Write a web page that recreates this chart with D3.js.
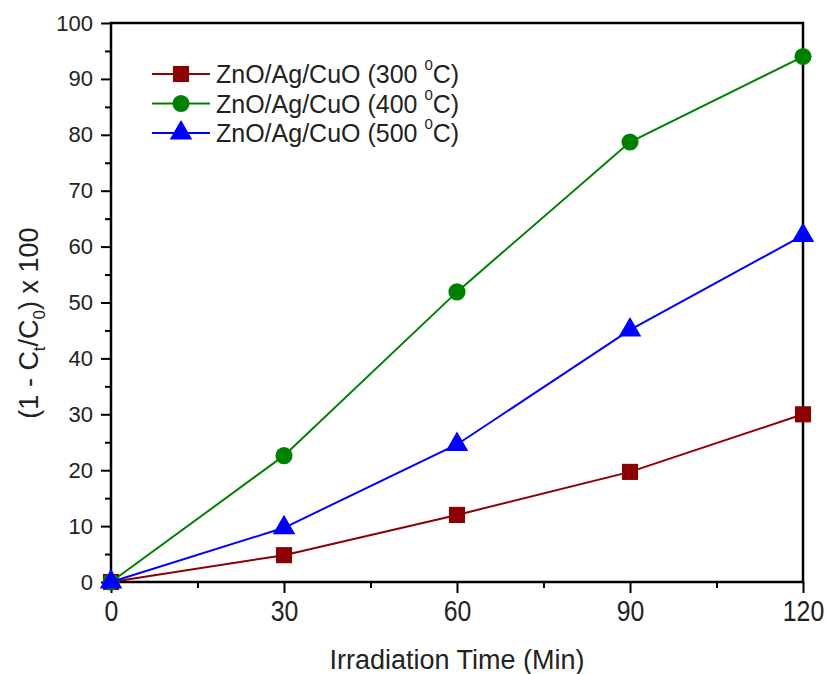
<!DOCTYPE html>
<html>
<head>
<meta charset="utf-8">
<script src="https://cdn.jsdelivr.net/npm/d3@7"></script>
<style>
  body { margin: 0; background: white; }
  text { font-family: "Liberation Sans", Arial, sans-serif; }
</style>
</head>
<body>
<script>
const times = [0, 30, 60, 90, 120];
const s300 = [0, 4.8, 12.0, 19.7, 30.0];
const s400 = [0, 22.6, 51.9, 78.7, 94.0];
const s500 = [0, 9.7, 24.6, 45.1, 62.0];
const seriesNames = ["ZnO/Ag/CuO (300 ", "ZnO/Ag/CuO (400 ", "ZnO/Ag/CuO (500 "];
const xTicks = [0, 30, 60, 90, 120];
const yTicks = [0, 10, 20, 30, 40, 50, 60, 70, 80, 90, 100];

const width = 827, height = 674;
const margin = { top: 23, right: 24, bottom: 92, left: 111 };

const series = [
  { name: seriesNames[0], values: s300, color: "#8b0000", symbol: d3.symbolSquare, size: 260 },
  { name: seriesNames[1], values: s400, color: "#008000", symbol: d3.symbolCircle, size: 230 },
  { name: seriesNames[2], values: s500, color: "#0000ff", symbol: d3.symbolTriangle, size: 220 }
];

const x = d3.scaleLinear([0, 120], [margin.left, width - margin.right]);
const y = d3.scaleLinear([0, 100], [height - margin.bottom, margin.top]);

const svg = d3.select("body").append("svg")
  .attr("width", width)
  .attr("height", height);

// minor ticks
svg.append("g")
  .attr("transform", `translate(0,${y(0)})`)
  .call(d3.axisBottom(x).tickValues(d3.range(15, 120, 30)).tickSize(6).tickFormat(""))
  .call(g => g.select(".domain").remove())
  .selectAll("line").attr("stroke-width", 2);
svg.append("g")
  .attr("transform", `translate(${x(0)},0)`)
  .call(d3.axisLeft(y).tickValues(d3.range(5, 100, 10)).tickSize(6).tickFormat(""))
  .call(g => g.select(".domain").remove())
  .selectAll("line").attr("stroke-width", 2);

// major ticks
const xAxis = svg.append("g")
  .attr("transform", `translate(0,${y(0)})`)
  .call(d3.axisBottom(x).tickValues(xTicks).tickSize(11).tickPadding(6));
xAxis.select(".domain").remove();
xAxis.selectAll("line").attr("stroke-width", 2);
xAxis.selectAll(".tick text")
  .attr("font-size", 27).attr("fill", "#222")
  .attr("transform", "scale(0.92,1.08)");

const yAxis = svg.append("g")
  .attr("transform", `translate(${x(0)},0)`)
  .call(d3.axisLeft(y).tickValues(yTicks).tickSize(10).tickPadding(8));
yAxis.select(".domain").remove();
yAxis.selectAll("line").attr("stroke-width", 2);
yAxis.selectAll("text").attr("font-size", 22).attr("fill", "#222");

// frame
svg.append("rect")
  .attr("x", x(0)).attr("y", y(100))
  .attr("width", x(120) - x(0)).attr("height", y(0) - y(100))
  .attr("fill", "none").attr("stroke", "#000").attr("stroke-width", 2.5);

// lines + markers
const line = d3.line().x((d, i) => x(times[i])).y(d => y(d));
series.forEach(s => {
  svg.append("path")
    .datum(s.values)
    .attr("d", line)
    .attr("fill", "none")
    .attr("stroke", s.color)
    .attr("stroke-width", 2);
  svg.append("g").selectAll("path")
    .data(s.values)
    .join("path")
    .attr("transform", (d, i) => `translate(${x(times[i])},${y(d)})`)
    .attr("d", d3.symbol(s.symbol, s.size))
    .attr("fill", s.color);
});

// legend
const legend = svg.append("g");
series.forEach((s, i) => {
  const ly = 74 + i * 29.5;
  legend.append("line")
    .attr("x1", 152).attr("x2", 210).attr("y1", ly).attr("y2", ly)
    .attr("stroke", s.color).attr("stroke-width", 2);
  legend.append("path")
    .attr("transform", `translate(181,${ly})`)
    .attr("d", d3.symbol(s.symbol, s.size))
    .attr("fill", s.color);
  const t = legend.append("text")
    .attr("x", 216).attr("y", ly + 9)
    .attr("font-size", 25).attr("fill", "#222");
  t.append("tspan").text(s.name);
  t.append("tspan").attr("font-size", 15).attr("dy", -13).text("0");
  t.append("tspan").attr("dy", 13).text("C)");
});

// axis titles
svg.append("text")
  .attr("x", (x(0) + x(120)) / 2).attr("y", 669)
  .attr("text-anchor", "middle")
  .attr("font-size", 27).attr("fill", "#222")
  .text("Irradiation Time (Min)");

const yl = svg.append("text")
  .attr("transform", `translate(38,323) rotate(-90)`)
  .attr("text-anchor", "middle")
  .attr("font-size", 27).attr("fill", "#222");
yl.append("tspan").text("(1 - C");
yl.append("tspan").attr("font-size", 17).attr("dy", 7).text("t");
yl.append("tspan").attr("dy", -7).text("/C");
yl.append("tspan").attr("font-size", 17).attr("dy", 7).text("0");
yl.append("tspan").attr("dy", -7).text(") x 100");
</script>
</body>
</html>
